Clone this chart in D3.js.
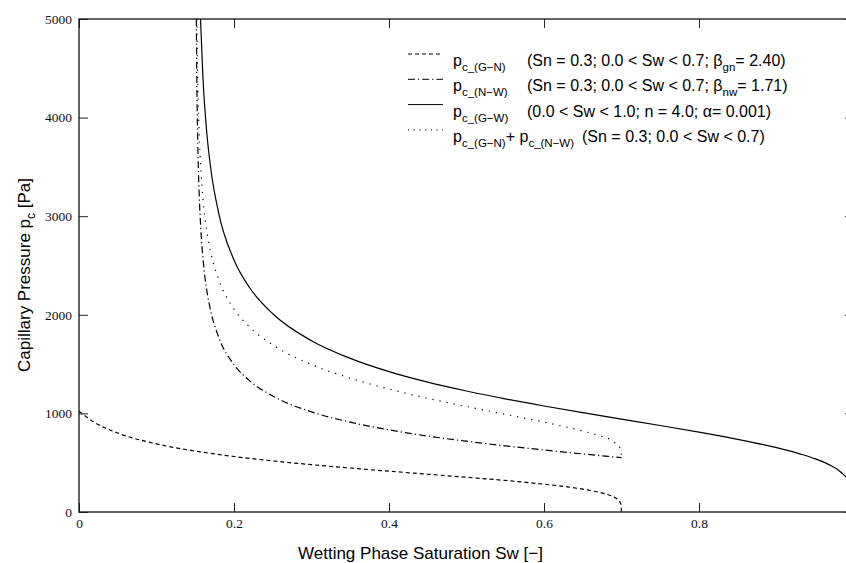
<!DOCTYPE html>
<html>
<head>
<meta charset="utf-8">
<script src="https://cdn.jsdelivr.net/npm/d3@7"></script>
<style>
  body { margin: 0; background: #fff; }
  svg { display: block; }
</style>
</head>
<body>
<div id="chart"></div>
<script>
// CHART SIZE
const SVG_WIDTH = 846;
const SVG_HEIGHT = 563;
const PLOT = { left: 79, top: 19, right: 854, bottom: 512 };

// DATA
// p_c(G-N), dashed
const swGN = [0, 0.02, 0.05, 0.1, 0.15, 0.2, 0.25, 0.3, 0.35, 0.4, 0.45, 0.5, 0.55, 0.6, 0.63, 0.65, 0.67, 0.68, 0.69, 0.695, 0.699, 0.7];
const pcGN = [1021, 909, 801, 691, 618, 563, 518, 480, 446, 414, 383, 352, 320, 282, 255, 232, 203, 182, 153, 128, 86, 0];

// p_c(N-W), dash-dot
const swNW = [0.1514, 0.152, 0.153, 0.154, 0.155, 0.157, 0.16, 0.165, 0.17, 0.18, 0.2, 0.22, 0.25, 0.3, 0.35, 0.4, 0.45, 0.5, 0.55, 0.6, 0.65, 0.7];
const pcNW = [5000, 4397, 3842, 3490, 3240, 2894, 2570, 2243, 2037, 1778, 1495, 1332, 1176, 1016, 911, 833, 770, 718, 671, 629, 589, 551];

// p_c(G-W), solid
const swGW = [0.1568, 0.16, 0.165, 0.17, 0.18, 0.2, 0.22, 0.25, 0.3, 0.35, 0.4, 0.45, 0.5, 0.55, 0.6, 0.65, 0.7, 0.75, 0.8, 0.85, 0.9, 0.93, 0.95, 0.97, 0.98, 0.99];
const pcGW = [5000, 4394, 3836, 3484, 3040, 2556, 2277, 2011, 1737, 1558, 1424, 1317, 1227, 1147, 1075, 1007, 942, 877, 810, 737, 653, 590, 539, 471, 424, 355];

// p_c(G-N) + p_c(N-W), dotted
const swSum = [0.152, 0.153, 0.154, 0.155, 0.157, 0.16, 0.165, 0.17, 0.18, 0.2, 0.22, 0.25, 0.3, 0.35, 0.4, 0.45, 0.5, 0.55, 0.6, 0.65, 0.67, 0.69, 0.699, 0.7];
const pcSum = [5000, 4457, 4104, 3853, 3505, 3177, 2844, 2633, 2364, 2058, 1877, 1694, 1496, 1357, 1247, 1153, 1070, 991, 911, 821, 777, 711, 638, 551];

// ticks
const xTicks = [0, 0.2, 0.4, 0.6, 0.8, 1.0];
const yTicks = [0, 1000, 2000, 3000, 4000, 5000];

const series = [
  { sw: swGN, pc: pcGN, dash: '4,3' },
  { sw: swNW, pc: pcNW, dash: '7,3,1.2,3' },
  { sw: swGW, pc: pcGW, dash: null },
  { sw: swSum, pc: pcSum, dash: '1.2,6' },
];

const svg = d3.select('#chart')
  .append('svg')
  .attr('width', SVG_WIDTH)
  .attr('height', SVG_HEIGHT);

const xScale = d3.scaleLinear().domain([0, 1]).range([PLOT.left, PLOT.right]);
const yScale = d3.scaleLinear().domain([0, 5000]).range([PLOT.bottom, PLOT.top]);

const TICK_FONT = '"Liberation Serif", "Times New Roman", serif';
const SANS = '"Liberation Sans", Arial, sans-serif';

// axes with inward ticks on all four sides
function styleAxis (g) {
  g.select('.domain').remove();
  g.selectAll('line').attr('stroke', '#222').attr('stroke-width', 1);
  g.selectAll('text').attr('font-family', TICK_FONT).attr('font-size', 13.5).attr('fill', '#111');
}

svg.append('g')
  .attr('transform', `translate(0, ${PLOT.bottom})`)
  .call(d3.axisBottom(xScale).tickValues(xTicks).tickSize(-9).tickPadding(6)
    .tickFormat(d => d === 0 ? '0' : (d < 1 ? d3.format('.1f')(d) : '')))
  .call(styleAxis);

svg.append('g')
  .attr('transform', `translate(0, ${PLOT.top})`)
  .call(d3.axisTop(xScale).tickValues(xTicks).tickSize(-9).tickFormat(''))
  .call(styleAxis);

svg.append('g')
  .attr('transform', `translate(${PLOT.left}, 0)`)
  .call(d3.axisLeft(yScale).tickValues(yTicks).tickSize(-9).tickPadding(7).tickFormat(d3.format('d')))
  .call(styleAxis);

svg.append('g')
  .attr('transform', `translate(${PLOT.right}, 0)`)
  .call(d3.axisRight(yScale).tickValues(yTicks).tickSize(-9).tickFormat(''))
  .call(styleAxis);

// frame
svg.append('rect')
  .attr('x', PLOT.left)
  .attr('y', PLOT.top)
  .attr('width', PLOT.right - PLOT.left)
  .attr('height', PLOT.bottom - PLOT.top)
  .attr('fill', 'none')
  .attr('stroke', '#111')
  .attr('stroke-width', 1.3);

// curves
svg.append('clipPath').attr('id', 'plot-clip')
  .append('rect')
  .attr('x', PLOT.left).attr('y', PLOT.top)
  .attr('width', PLOT.right - PLOT.left).attr('height', PLOT.bottom - PLOT.top);

const line = d3.line()
  .x(d => xScale(d[0]))
  .y(d => yScale(d[1]))
  .curve(d3.curveMonotoneX);

svg.append('g')
  .attr('clip-path', 'url(#plot-clip)')
  .selectAll('path')
  .data(series)
  .join('path')
  .attr('d', s => line(s.sw.map((v, i) => [v, s.pc[i]])))
  .attr('fill', 'none')
  .attr('stroke', '#000')
  .attr('stroke-width', 1.2)
  .attr('stroke-dasharray', s => s.dash);

// legend
const legendRows = [
  { dash: '4,3', parts: [['p', 0], ['c_(G\u2212N)', 1]], textX: 527,
    text: [['(Sn = 0.3; 0.0 < Sw < 0.7; \u03b2', 0], ['gn', 1], ['= 2.40)', 0]] },
  { dash: '7,3,1.2,3', parts: [['p', 0], ['c_(N\u2212W)', 1]], textX: 527,
    text: [['(Sn = 0.3; 0.0 < Sw < 0.7; \u03b2', 0], ['nw', 1], ['= 1.71)', 0]] },
  { dash: null, parts: [['p', 0], ['c_(G\u2212W)', 1]], textX: 527,
    text: [['(0.0 < Sw < 1.0; n = 4.0; \u03b1= 0.001)', 0]] },
  { dash: '1.2,4.5', parts: [['p', 0], ['c_(G\u2212N)', 1], ['+ p', 0], ['c_(N\u2212W)', 1]], textX: 582,
    text: [['(Sn = 0.3; 0.0 < Sw < 0.7)', 0]] },
];

function writeRich (textSel, parts, subSize) {
  let shifted = false;
  parts.forEach(([str, sub]) => {
    const t = textSel.append('tspan').text(str);
    if (sub && !shifted) { t.attr('dy', 5).attr('font-size', subSize); shifted = true; }
    else if (!sub && shifted) { t.attr('dy', -5); shifted = false; }
  });
}

const legend = svg.append('g').attr('font-family', SANS).attr('font-size', 16).attr('fill', '#000');
legendRows.forEach((row, i) => {
  const base = 66 + i * 25.3;
  legend.append('line')
    .attr('x1', 408).attr('x2', 443)
    .attr('y1', base - 12).attr('y2', base - 12)
    .attr('stroke', '#000').attr('stroke-width', 1)
    .attr('stroke-dasharray', row.dash);
  writeRich(legend.append('text').attr('x', 453).attr('y', base), row.parts, 11.5);
  writeRich(legend.append('text').attr('x', row.textX).attr('y', base), row.text, 11.5);
});

// axis titles
svg.append('text')
  .attr('x', 298).attr('y', 559)
  .attr('font-family', SANS).attr('font-size', 17).attr('fill', '#000')
  .text('Wetting Phase Saturation Sw [\u2212]');

const yTitle = svg.append('text')
  .attr('transform', 'rotate(-90)')
  .attr('x', -372).attr('y', 30)
  .attr('font-family', SANS).attr('font-size', 17).attr('fill', '#000');
writeRich(yTitle, [['Capillary Pressure p', 0], ['c', 1], [' [Pa]', 0]], 12);
</script>
</body>
</html>
